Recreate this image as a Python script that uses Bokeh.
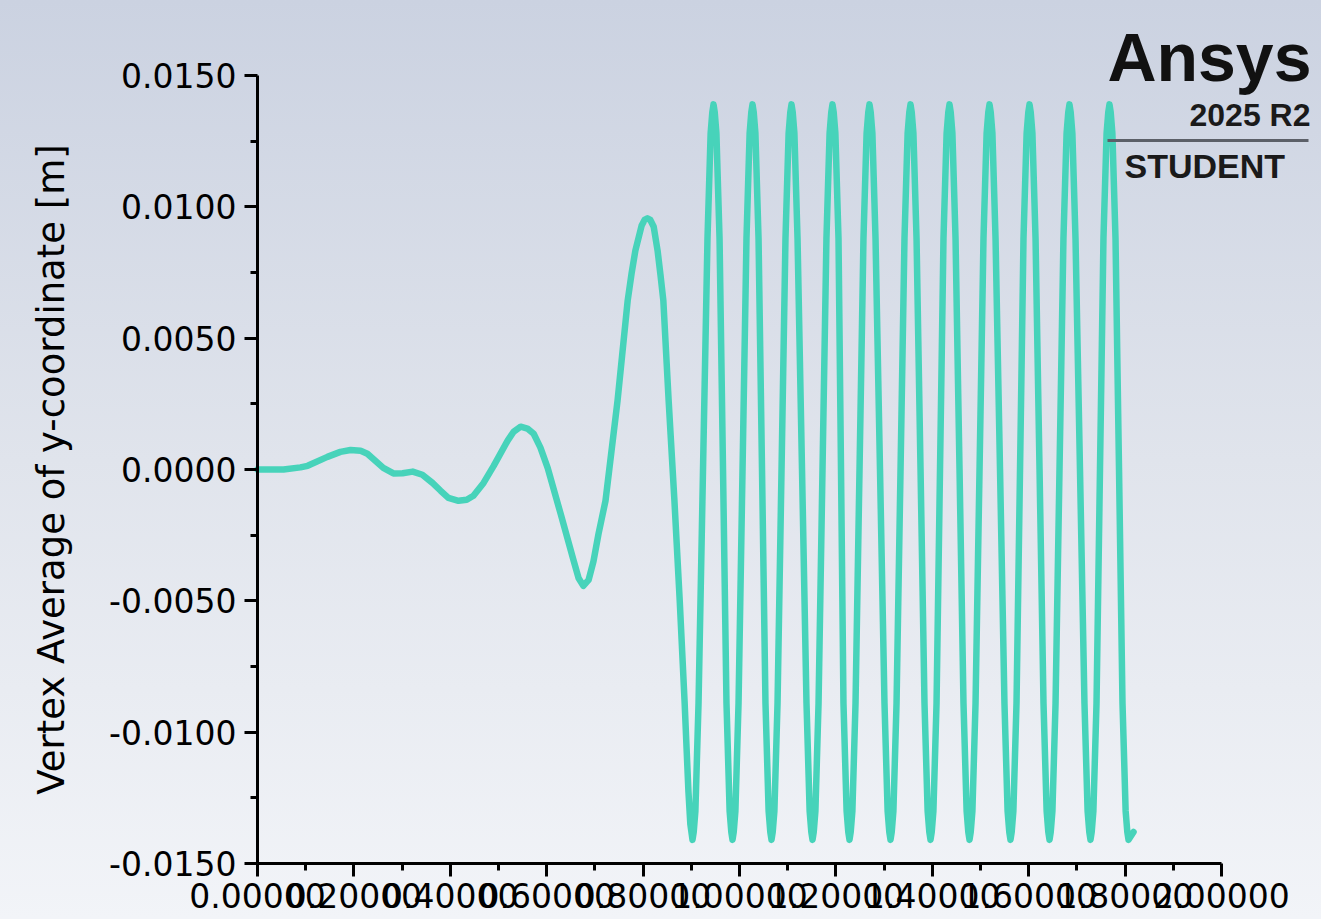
from bokeh.plotting import figure
from bokeh.models import (Range1d, FixedTicker, PrintfTickFormatter, Label,
                          BoxAnnotation, GlobalInlineStyleSheet)
from bokeh.embed import file_html
from bokeh.resources import INLINE

# ---- data (flow time [s] vs vertex-average y [m]) ----
t_early = [0.0, 0.027, 0.054, 0.089, 0.104, 0.145, 0.172, 0.193, 0.214, 0.228,
           0.261, 0.282, 0.301, 0.322, 0.342, 0.363, 0.380, 0.396, 0.417, 0.434,
           0.448, 0.469, 0.490, 0.519, 0.531, 0.546, 0.560, 0.573, 0.587, 0.602,
           0.629, 0.656, 0.666, 0.676, 0.687, 0.697, 0.7075, 0.722, 0.747, 0.768,
           0.776, 0.784, 0.797, 0.803, 0.809, 0.815, 0.822, 0.830, 0.836, 0.842,
           0.853, 0.865, 0.876, 0.886, 0.894, 0.898]
y_early = [0.0, 0.0, 0.0, 0.00008, 0.00014, 0.00048, 0.00067, 0.00074, 0.00071, 0.00060,
           0.00006, -0.00015, -0.00014, -0.00008, -0.00020, -0.00051, -0.00081, -0.00108, -0.00119, -0.00115,
           -0.00100, -0.00051, 0.00014, 0.00110, 0.00143, 0.00163, 0.00156, 0.00136, 0.00083, 0.00006,
           -0.00169, -0.00348, -0.00413, -0.00443, -0.00420, -0.00350, -0.00245, -0.00119, 0.00262, 0.00643,
           0.00745, 0.00834, 0.00929, 0.00950, 0.00956, 0.00950, 0.00924, 0.00834, 0.00742, 0.00643,
           0.00262, -0.00119, -0.00500, -0.00881, -0.01224, -0.01350]

t_osc = [0.9025,
         0.9050, 0.9085, 0.9150, 0.9243, 0.9336, 0.9401, 0.9436, 0.9461,
         0.9486, 0.9521, 0.9586, 0.9658, 0.9730, 0.9795, 0.9830, 0.9855,
         0.9880, 0.9915, 0.9980, 1.0063, 1.0145, 1.0210, 1.0245, 1.0270,
         1.0295, 1.0330, 1.0395, 1.0467, 1.0539, 1.0604, 1.0639, 1.0664,
         1.0689, 1.0724, 1.0789, 1.0872, 1.0954, 1.1019, 1.1054, 1.1079,
         1.1104, 1.1139, 1.1204, 1.1297, 1.1390, 1.1455, 1.1490, 1.1515,
         1.1540, 1.1575, 1.1640, 1.1722, 1.1804, 1.1869, 1.1904, 1.1929,
         1.1954, 1.1989, 1.2054, 1.2106, 1.2157, 1.2222, 1.2257, 1.2282,
         1.2307, 1.2342, 1.2407, 1.2490, 1.2572, 1.2637, 1.2672, 1.2697,
         1.2722, 1.2757, 1.2822, 1.2915, 1.3008, 1.3073, 1.3108, 1.3133,
         1.3158, 1.3193, 1.3258, 1.3341, 1.3423, 1.3488, 1.3523, 1.3548,
         1.3573, 1.3608, 1.3673, 1.3756, 1.3838, 1.3903, 1.3938, 1.3963,
         1.3988, 1.4023, 1.4088, 1.4160, 1.4232, 1.4297, 1.4332, 1.4357,
         1.4382, 1.4417, 1.4482, 1.4565, 1.4647, 1.4712, 1.4747, 1.4772,
         1.4797, 1.4832, 1.4897, 1.4980, 1.5062, 1.5127, 1.5162, 1.5187,
         1.5212, 1.5247, 1.5312, 1.5405, 1.5497, 1.5562, 1.5597, 1.5622,
         1.5647, 1.5682, 1.5747, 1.5820, 1.5892, 1.5957, 1.5992, 1.6017,
         1.6042, 1.6077, 1.6142, 1.6225, 1.6307, 1.6372, 1.6407, 1.6432,
         1.6457, 1.6492, 1.6557, 1.6639, 1.6721, 1.6786, 1.6821, 1.6846,
         1.6871, 1.6906, 1.6971, 1.7064, 1.7157, 1.7222, 1.7257, 1.7282,
         1.7307, 1.7342, 1.7407, 1.7479, 1.7551, 1.7616, 1.7651, 1.7676,
         1.7701, 1.7736, 1.7801, 1.7874, 1.7946, 1.8011, 1.8046, 1.8071,
         1.8175]
y_osc = [-0.0141,
         -0.0138, -0.0130, -0.0089, 0.0, 0.0088, 0.0128, 0.0136, 0.0139,
         0.0136, 0.0128, 0.0088, 0.0, -0.0089, -0.0130, -0.0138, -0.0141,
         -0.0138, -0.0130, -0.0089, 0.0, 0.0088, 0.0128, 0.0136, 0.0139,
         0.0136, 0.0128, 0.0088, 0.0, -0.0089, -0.0130, -0.0138, -0.0141,
         -0.0138, -0.0130, -0.0089, 0.0, 0.0088, 0.0128, 0.0136, 0.0139,
         0.0136, 0.0128, 0.0088, 0.0, -0.0089, -0.0130, -0.0138, -0.0141,
         -0.0138, -0.0130, -0.0089, 0.0, 0.0088, 0.0128, 0.0136, 0.0139,
         0.0136, 0.0128, 0.0088, 0.0, -0.0089, -0.0130, -0.0138, -0.0141,
         -0.0138, -0.0130, -0.0089, 0.0, 0.0088, 0.0128, 0.0136, 0.0139,
         0.0136, 0.0128, 0.0088, 0.0, -0.0089, -0.0130, -0.0138, -0.0141,
         -0.0138, -0.0130, -0.0089, 0.0, 0.0088, 0.0128, 0.0136, 0.0139,
         0.0136, 0.0128, 0.0088, 0.0, -0.0089, -0.0130, -0.0138, -0.0141,
         -0.0138, -0.0130, -0.0089, 0.0, 0.0088, 0.0128, 0.0136, 0.0139,
         0.0136, 0.0128, 0.0088, 0.0, -0.0089, -0.0130, -0.0138, -0.0141,
         -0.0138, -0.0130, -0.0089, 0.0, 0.0088, 0.0128, 0.0136, 0.0139,
         0.0136, 0.0128, 0.0088, 0.0, -0.0089, -0.0130, -0.0138, -0.0141,
         -0.0138, -0.0130, -0.0089, 0.0, 0.0088, 0.0128, 0.0136, 0.0139,
         0.0136, 0.0128, 0.0088, 0.0, -0.0089, -0.0130, -0.0138, -0.0141,
         -0.0138, -0.0130, -0.0089, 0.0, 0.0088, 0.0128, 0.0136, 0.0139,
         0.0136, 0.0128, 0.0088, 0.0, -0.0089, -0.0130, -0.0138, -0.0141,
         -0.0138, -0.0130, -0.0089, 0.0, 0.0088, 0.0128, 0.0136, 0.0139,
         0.0136, 0.0128, 0.0088, 0.0, -0.0089, -0.0130, -0.0138, -0.0141,
         -0.0138]

x_major = [0.0, 0.2, 0.4, 0.6, 0.8, 1.0, 1.2, 1.4, 1.6, 1.8, 2.0]
x_minor = [0.1, 0.3, 0.5, 0.7, 0.9, 1.1, 1.3, 1.5, 1.7, 1.9]
y_major = [-0.015, -0.010, -0.005, 0.0, 0.005, 0.010, 0.015]
y_minor = [-0.0125, -0.0075, -0.0025, 0.0025, 0.0075, 0.0125]

y_title = "Vertex Average of y-coordinate [m]"

# ---- layout ------------------------------------------------------------
# The plotting frame covers the canvas (so the logo annotations are not
# clipped); both axes are pinned at the data origin corner with
# fixed_location and bounded to the reference extents.
W, H = 1321, 919
TOP = 21                                   # frame top (centres the y title)
AX_LEFT_PX, AX_RIGHT_PX = 257, 1221        # x = 0 and x = 2.0
AX_TOP_PX, AX_BOT_PX = 75, 863             # y = 0.015 and y = -0.015
x0, x1 = 0.0, 2.0
y0, y1 = -0.015, 0.015
sx = (x1 - x0) / (AX_RIGHT_PX - AX_LEFT_PX)
sy = (y1 - y0) / (AX_BOT_PX - AX_TOP_PX)
x_range = Range1d(x0 - AX_LEFT_PX * sx, x1 + (W - AX_RIGHT_PX) * sx)
y_range = Range1d(y0 - (H - AX_BOT_PX) * sy, y1 + (AX_TOP_PX - TOP) * sy)

p = figure(width=W, height=H, output_backend="svg", toolbar_location=None,
           x_range=x_range, y_range=y_range,
           min_border_left=0, min_border_right=0, min_border_top=TOP,
           min_border_bottom=0)
p.stylesheets = [GlobalInlineStyleSheet(css="""
html { height: 100%; background: linear-gradient(180deg, #cbd2e1 0%, #e0e4ec 50%, #f2f4f8 100%); }
body { margin: 0; overflow: hidden; background: transparent; }
""")]
p.background_fill_alpha = 0
p.border_fill_alpha = 0
p.outline_line_color = None
p.grid.visible = False

FONT = "DejaVu Sans"
for ax in (p.xaxis[0], p.yaxis[0]):
    ax.axis_line_color = "black"
    ax.axis_line_width = 3
    ax.major_tick_line_color = "black"
    ax.major_tick_line_width = 3
    ax.major_tick_in = 0
    ax.major_tick_out = 13
    ax.minor_tick_line_color = "black"
    ax.minor_tick_line_width = 3
    ax.minor_tick_in = 0
    ax.minor_tick_out = 7
    ax.major_label_text_font = FONT
    ax.major_label_text_font_size = "33px"
    ax.major_label_text_color = "black"

p.xaxis.fixed_location = y0
p.yaxis.fixed_location = x0
p.xaxis.bounds = (x0, x1)
p.yaxis.bounds = (y0, y1)
p.xaxis.ticker = FixedTicker(ticks=x_major, minor_ticks=x_minor)
p.yaxis.ticker = FixedTicker(ticks=y_major, minor_ticks=y_minor)
p.xaxis.formatter = PrintfTickFormatter(format="%.5f")
p.yaxis.formatter = PrintfTickFormatter(format="%.4f")
p.xaxis.major_label_standoff = 6
p.yaxis.major_label_standoff = 8

p.yaxis.axis_label = y_title
p.yaxis.axis_label_text_font = FONT
p.yaxis.axis_label_text_font_size = "37px"
p.yaxis.axis_label_text_font_style = "normal"
p.yaxis.axis_label_text_color = "black"
p.yaxis.axis_label_standoff = 33

p.line(t_early + t_osc, y_early + y_osc, line_color="#47d3ba", line_width=6.5,
       line_join="round", line_cap="round")

# ---- Ansys logo (canvas units, y measured from the top) ----
p.add_layout(Label(x=1311, y=56, x_units="canvas", y_units="canvas", text="Ansys",
                   text_font="Liberation Sans", text_font_style="bold",
                   text_font_size="68px", text_color="#111111", text_align="right",
                   text_baseline="alphabetic", level="overlay"))
p.add_layout(Label(x=1310, y=114, x_units="canvas", y_units="canvas", text="2025 R2",
                   text_font="Liberation Sans", text_font_style="bold",
                   text_font_size="32px", text_color="#1a1a1a", text_align="right",
                   text_baseline="alphabetic", level="overlay"))
p.add_layout(BoxAnnotation(left=1107, right=1308, top=138.5, bottom=141.5,
                           left_units="canvas", right_units="canvas",
                           bottom_units="canvas", top_units="canvas",
                           fill_color="#5c6068", fill_alpha=1.0, line_color=None,
                           level="overlay"))
p.add_layout(Label(x=1124, y=165, x_units="canvas", y_units="canvas", text="STUDENT",
                   text_font="Liberation Sans", text_font_style="bold",
                   text_font_size="34px", text_color="#1a1a1a", text_align="left",
                   text_baseline="alphabetic", level="overlay"))

open("out.html", "w").write(file_html(p, INLINE))
